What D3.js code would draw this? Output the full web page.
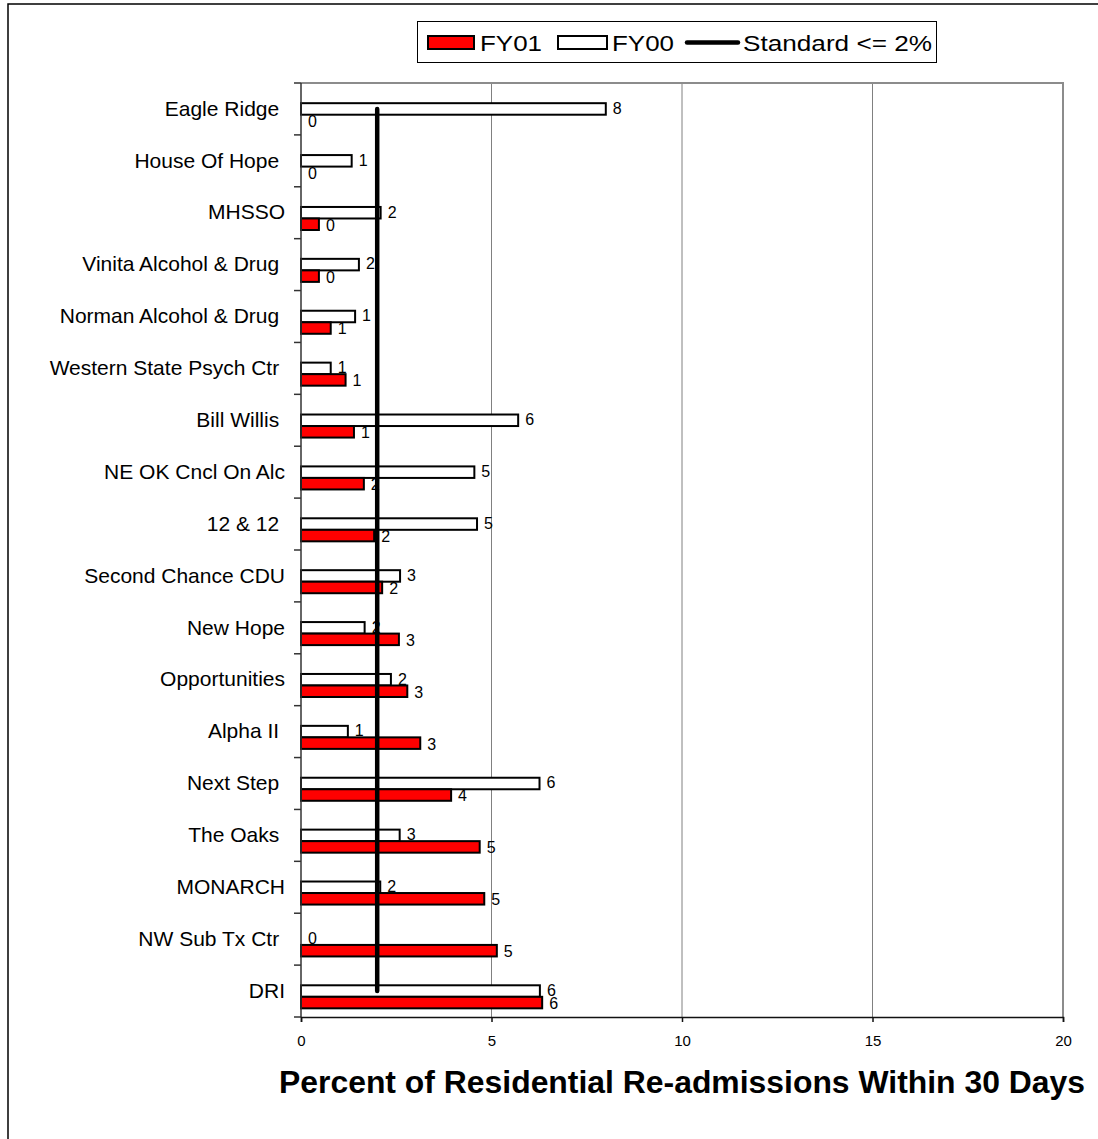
<!DOCTYPE html>
<html>
<head>
<meta charset="utf-8">
<script src="https://cdn.jsdelivr.net/npm/d3@7"></script>
<style>
  html, body { margin: 0; padding: 0; background: #fff; }
  svg { display: block; font-family: "Liberation Sans", Arial, sans-serif; }
</style>
</head>
<body>
<svg id="chart" width="1098" height="1139"></svg>
<script>
// Facilities, listed top to bottom (trailing spaces are part of the source labels)
const categories = [
  "Eagle Ridge ", "House Of Hope ", "MHSSO", "Vinita Alcohol & Drug ",
  "Norman Alcohol & Drug ", "Western State Psych Ctr ", "Bill Willis ",
  "NE OK Cncl On Alc", "12 & 12 ", "Second Chance CDU", "New Hope",
  "Opportunities", "Alpha II ", "Next Step ", "The Oaks ", "MONARCH",
  "NW Sub Tx Ctr ", "DRI"
];

// Percent of residential re-admissions within 30 days
const fy01 = [0, 0, 0.47, 0.47, 0.78, 1.17, 1.39, 1.65, 1.92, 2.13, 2.57, 2.79, 3.13, 3.94, 4.69, 4.81, 5.14, 6.33];
const fy00 = [8.0, 1.33, 2.09, 1.52, 1.42, 0.78, 5.70, 4.55, 4.62, 2.60, 1.67, 2.36, 1.23, 6.26, 2.59, 2.08, 0, 6.27];

// Performance standard (<= 2%)
const standard = 2;

const seriesNames = ["FY00", "FY01"];
const xTicks = [0, 5, 10, 15, 20];
const legendLabels = ["FY01", "FY00", "Standard <= 2%"];
const axisTitle = "Percent of Residential Re-admissions Within 30 Days";

const svg = d3.select("#chart");

// Outer chart frame (only its top and left edges fall inside the page)
svg.append("rect")
  .attr("x", 8).attr("y", 4)
  .attr("width", 1200).attr("height", 1200)
  .attr("fill", "none").attr("stroke", "#000").attr("stroke-width", 1.5);

const plot = { left: 301, right: 1063, top: 83, bottom: 1017 };

const x = d3.scaleLinear().domain([0, 20]).range([plot.left, plot.right]);
const y = d3.scaleBand().domain(categories).range([plot.top, plot.bottom]).padding(0);
const barH = y.bandwidth() * 0.222;
const sub = d3.scaleBand().domain(seriesNames).range([0, 2 * barH]);
const barTop = (cat, s) => y(cat) + y.bandwidth() / 2 - barH / 2 + sub(s);

// Vertical gridlines
svg.append("g")
  .selectAll("line")
  .data(xTicks.filter(t => t > 0 && t < 20))
  .join("line")
  .attr("x1", d => x(d)).attr("x2", d => x(d))
  .attr("y1", plot.top).attr("y2", plot.bottom)
  .attr("stroke", "#808080").attr("stroke-width", 1);

// Plot area border (top and right)
svg.append("path")
  .attr("d", `M${plot.left},${plot.top}H${plot.right}V${plot.bottom}`)
  .attr("fill", "none").attr("stroke", "#8c8c8c").attr("stroke-width", 2);

const rows = categories.map((c, i) => ({ cat: c, FY00: fy00[i], FY01: fy01[i] }));
const fmt = d3.format(".0f");
const colors = { FY00: "#ffffff", FY01: "#ff0000" };

// Bars
seriesNames.forEach(s => {
  svg.append("g")
    .selectAll("rect")
    .data(rows)
    .join("rect")
    .attr("x", x(0))
    .attr("y", d => barTop(d.cat, s))
    .attr("width", d => x(d[s]) - x(0))
    .attr("height", barH)
    .attr("fill", colors[s])
    .attr("stroke", "#000")
    .attr("stroke-width", 2);
});

// Value labels
seriesNames.forEach(s => {
  svg.append("g")
    .selectAll("text")
    .data(rows)
    .join("text")
    .attr("x", d => x(d[s]) + 7)
    .attr("y", d => barTop(d.cat, s) + barH / 2)
    .attr("dy", s === "FY00" ? "0.3em" : "0.4em")
    .attr("font-size", 16)
    .attr("fill", "#000")
    .text(d => fmt(d[s]));
});

// Standard line
const stdLine = d3.line()
  .x(() => x(standard))
  .y(d => y(d) + y.bandwidth() / 2);
svg.append("path")
  .datum(categories)
  .attr("d", stdLine)
  .attr("fill", "none")
  .attr("stroke", "#000")
  .attr("stroke-width", 4.5)
  .attr("stroke-linecap", "round");

// Category axis
const yAxis = svg.append("g")
  .attr("transform", `translate(${plot.left},0)`)
  .call(d3.axisLeft(y).tickSize(0).tickPadding(16));
yAxis.select(".domain").remove();
yAxis.selectAll("text")
  .attr("font-size", 21)
  .attr("font-family", "\"Liberation Sans\", Arial, sans-serif")
  .attr("fill", "#000")
  .style("white-space", "pre");

// Category boundary ticks
const boundaries = categories.map(c => y(c)).concat([plot.bottom]);
svg.append("g")
  .selectAll("line")
  .data(boundaries)
  .join("line")
  .attr("x1", plot.left - 7).attr("x2", plot.left)
  .attr("y1", d => d).attr("y2", d => d)
  .attr("stroke", "#333").attr("stroke-width", 1.5);
svg.append("line")
  .attr("x1", plot.left).attr("x2", plot.left)
  .attr("y1", plot.top).attr("y2", plot.bottom)
  .attr("stroke", "#333").attr("stroke-width", 1.5);

// Value axis
const xAxis = svg.append("g")
  .attr("transform", `translate(0,${plot.bottom})`)
  .call(d3.axisBottom(x).tickValues(xTicks).tickSize(5).tickPadding(13).tickFormat(d3.format("d")));
xAxis.select(".domain").attr("stroke", "#111").attr("stroke-width", 1.5);
xAxis.selectAll(".tick line").attr("stroke", "#111").attr("stroke-width", 1.5);
xAxis.selectAll("text")
  .attr("font-size", 15)
  .attr("font-family", "\"Liberation Sans\", Arial, sans-serif")
  .attr("fill", "#000");

// Axis title
svg.append("text")
  .attr("x", (plot.left + plot.right) / 2)
  .attr("y", 1093)
  .attr("text-anchor", "middle")
  .attr("font-size", 31)
  .attr("font-weight", "bold")
  .attr("fill", "#000")
  .attr("textLength", 806)
  .attr("lengthAdjust", "spacingAndGlyphs")
  .text(axisTitle);

// Legend
const lg = svg.append("g");
lg.append("rect")
  .attr("x", 417.5).attr("y", 21.5)
  .attr("width", 519).attr("height", 41)
  .attr("fill", "#fff").attr("stroke", "#000").attr("stroke-width", 1);
lg.append("rect")
  .attr("x", 428).attr("y", 36).attr("width", 46).attr("height", 13)
  .attr("fill", colors.FY01).attr("stroke", "#000").attr("stroke-width", 2);
lg.append("rect")
  .attr("x", 558).attr("y", 36).attr("width", 49).attr("height", 13)
  .attr("fill", colors.FY00).attr("stroke", "#000").attr("stroke-width", 2);
lg.append("line")
  .attr("x1", 687).attr("x2", 738).attr("y1", 42.5).attr("y2", 42.5)
  .attr("stroke", "#000").attr("stroke-width", 4.5).attr("stroke-linecap", "round");
const legendPos = [
  { x: 480, len: 62 },
  { x: 612, len: 62 },
  { x: 743, len: 189 }
];
lg.selectAll("text.lbl")
  .data(legendLabels)
  .join("text")
  .attr("class", "lbl")
  .attr("x", (d, i) => legendPos[i].x)
  .attr("y", 50.5)
  .attr("font-size", 22)
  .attr("fill", "#000")
  .attr("textLength", (d, i) => legendPos[i].len)
  .attr("lengthAdjust", "spacingAndGlyphs")
  .text(d => d);
</script>
</body>
</html>
